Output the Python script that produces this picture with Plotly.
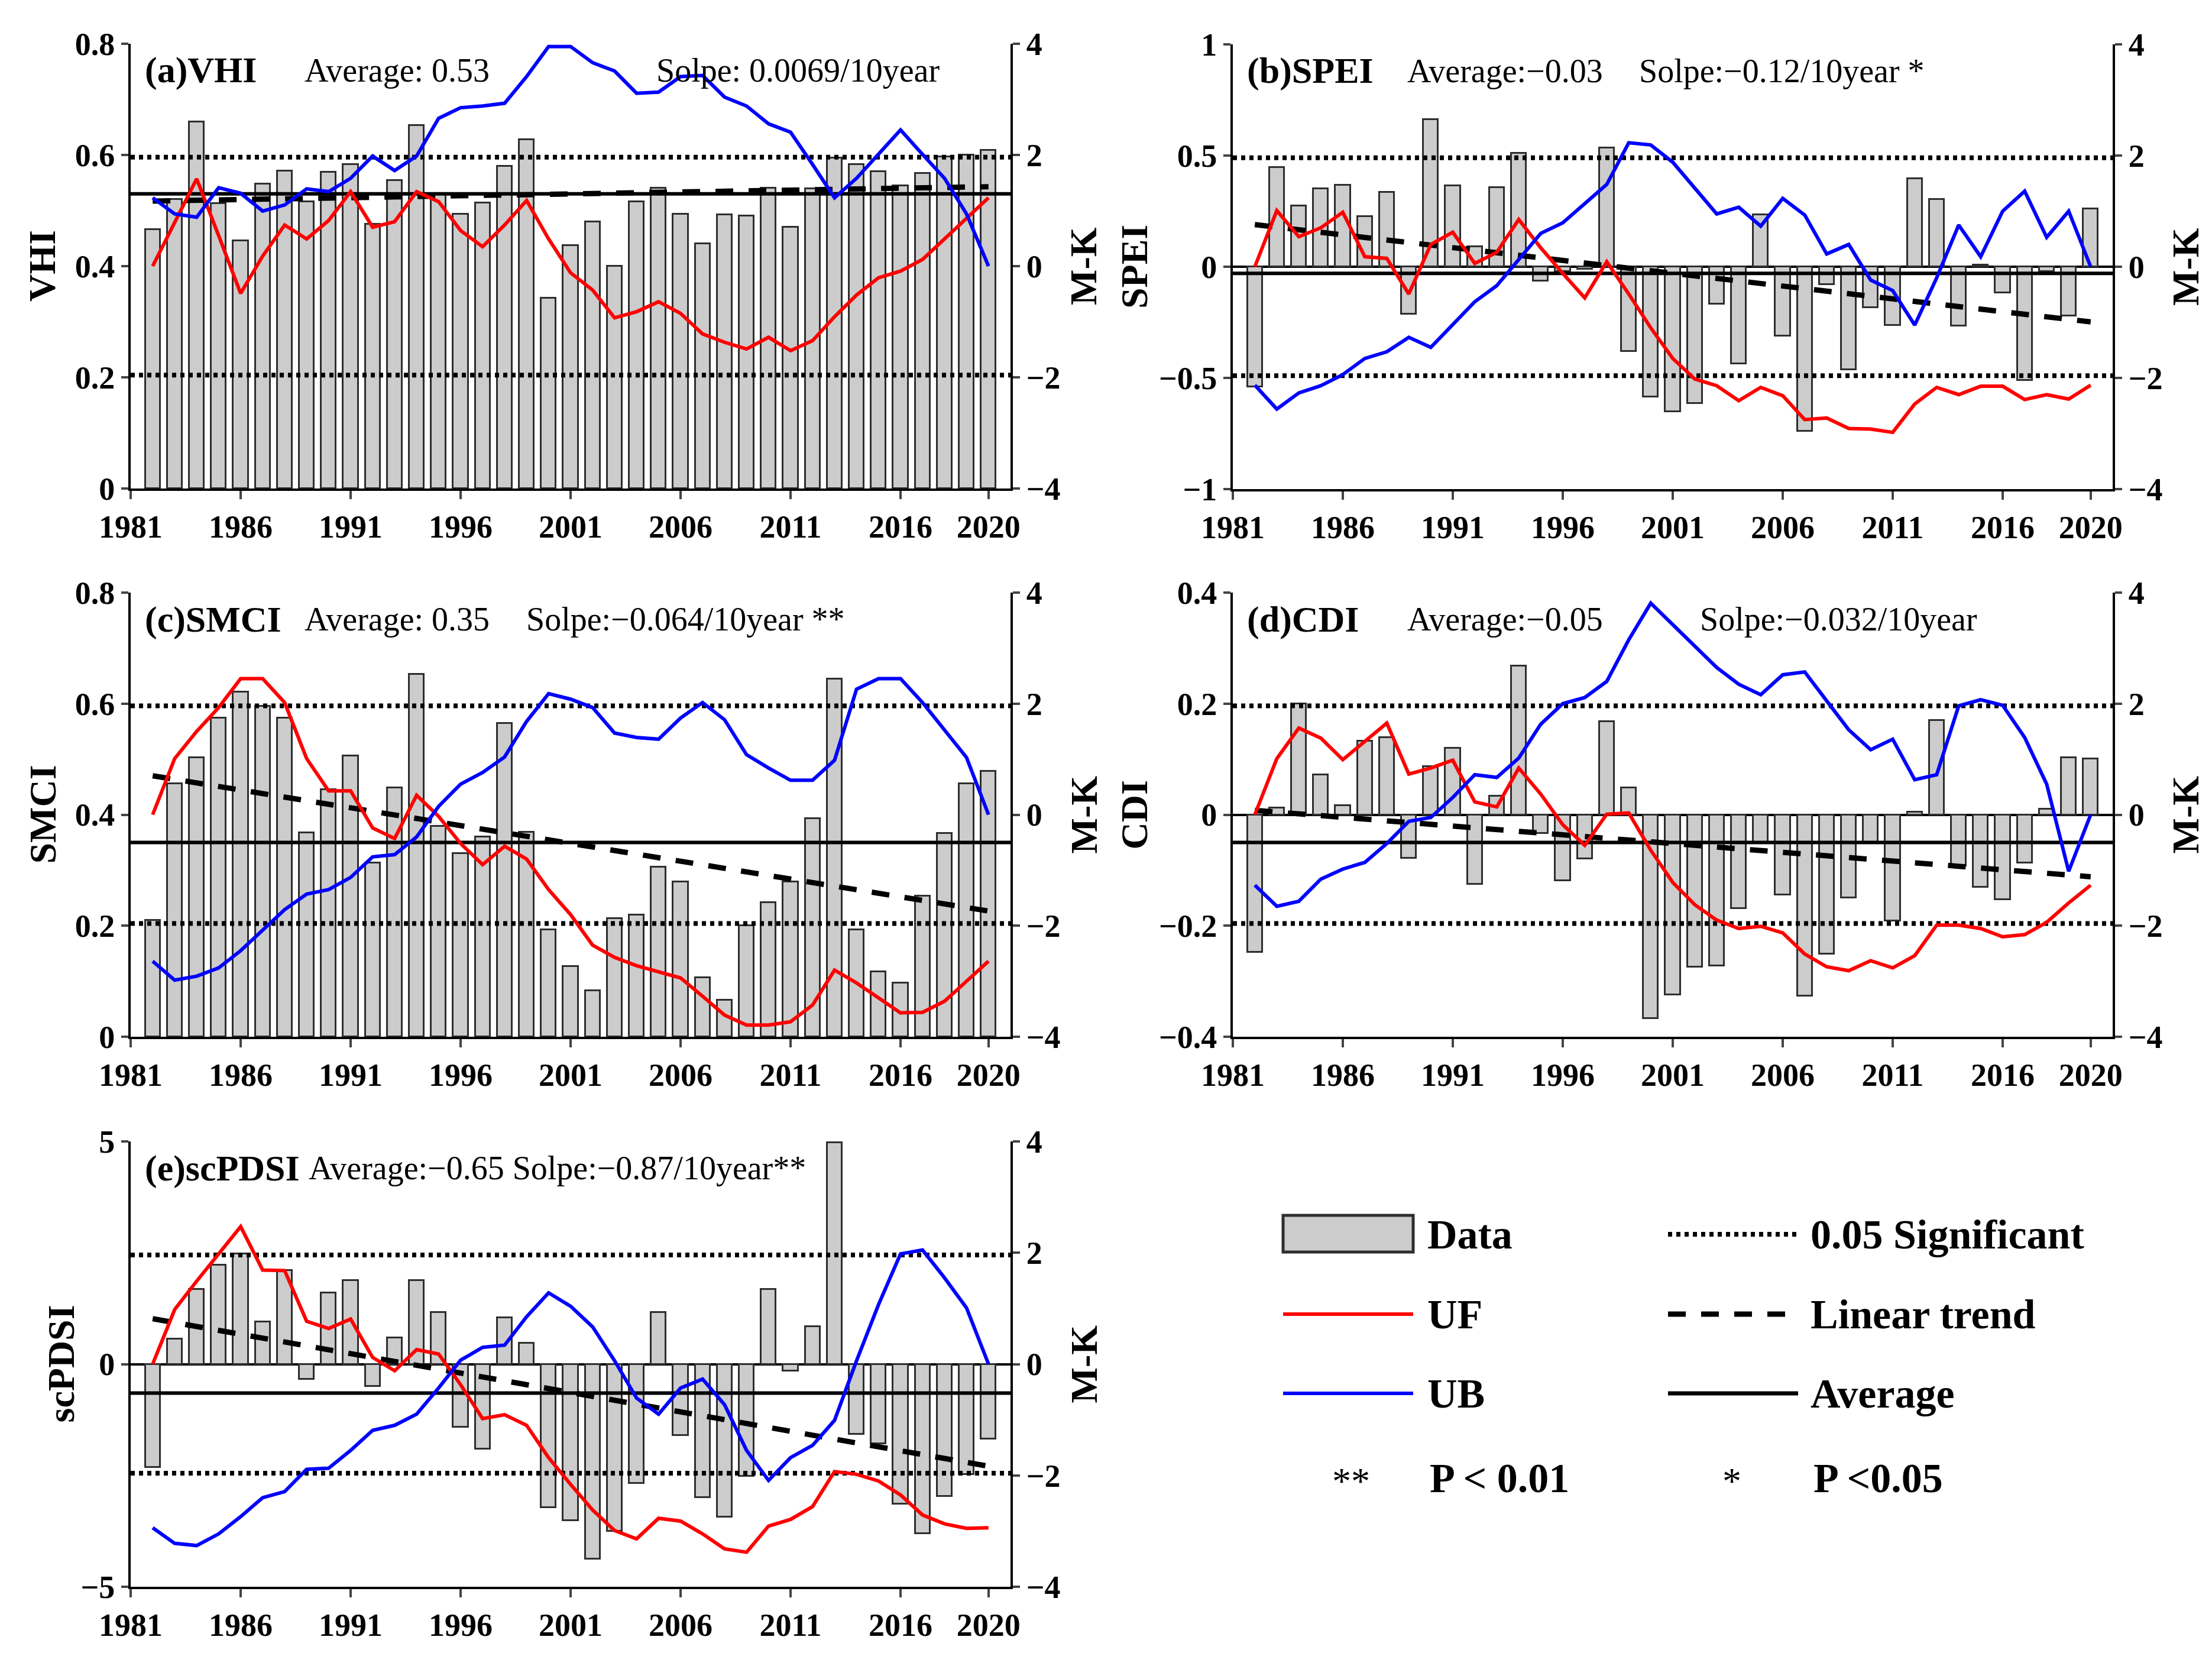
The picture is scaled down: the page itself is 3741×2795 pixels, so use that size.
import numpy as np
import plotly.graph_objects as go

W, H = 3741, 2795
FONT = "Liberation Serif"

years = list(range(1982, 2021))
tick_years = [1981, 1986, 1991, 1996, 2001, 2006, 2011, 2016, 2020]

# (a) VHI
vhi = [0.466, 0.52, 0.66, 0.513, 0.446, 0.548, 0.571, 0.516, 0.569, 0.583,
       0.476, 0.554, 0.653, 0.53, 0.494, 0.514, 0.58, 0.628, 0.343, 0.437,
       0.48, 0.40, 0.516, 0.54, 0.494, 0.44, 0.493, 0.49, 0.54, 0.47,
       0.539, 0.595, 0.583, 0.57, 0.545, 0.567, 0.597, 0.60, 0.608]
vhi_uf = [0, 0.8, 1.57, 0.55, -0.49, 0.18, 0.74, 0.49, 0.82, 1.34,
          0.70, 0.80, 1.34, 1.16, 0.64, 0.35, 0.74, 1.18, 0.49, -0.12,
          -0.43, -0.93, -0.82, -0.64, -0.85, -1.22, -1.37, -1.49, -1.28, -1.52,
          -1.34, -0.91, -0.52, -0.21, -0.09, 0.12, 0.49, 0.85, 1.23]
vhi_ub = [1.23, 0.94, 0.88, 1.41, 1.31, 0.99, 1.10, 1.39, 1.34, 1.58,
          1.98, 1.72, 1.98, 2.66, 2.85, 2.88, 2.93, 3.41, 3.95, 3.95,
          3.66, 3.51, 3.11, 3.13, 3.41, 3.43, 3.04, 2.88, 2.56, 2.41,
          1.83, 1.23, 1.58, 2.01, 2.45, 2.01, 1.58, 0.94, 0]

# (b) SPEI
spei = [-0.54, 0.447, 0.273, 0.351, 0.366, 0.226, 0.334, -0.214, 0.661, 0.365,
        0.09, 0.356, 0.51, -0.064, -0.02, -0.01, 0.534, -0.38, -0.585, -0.652,
        -0.615, -0.168, -0.435, 0.234, -0.311, -0.74, -0.079, -0.464, -0.183, -0.264,
        0.397, 0.302, -0.267, 0.008, -0.118, -0.511, -0.02, -0.221, 0.261]
spei_uf = [0, 1.01, 0.54, 0.70, 0.98, 0.18, 0.15, -0.49, 0.40, 0.62,
           0.06, 0.26, 0.85, 0.34, -0.12, -0.56, 0.09, -0.49, -1.10, -1.65,
           -2.02, -2.14, -2.41, -2.17, -2.32, -2.75, -2.72, -2.91, -2.92, -2.98,
           -2.47, -2.17, -2.30, -2.15, -2.15, -2.39, -2.30, -2.38, -2.13]
spei_ub = [-2.13, -2.56, -2.27, -2.14, -1.94, -1.65, -1.53, -1.27, -1.45, -1.03,
           -0.63, -0.34, 0.13, 0.60, 0.79, 1.13, 1.48, 2.23, 2.19, 1.88,
           1.42, 0.95, 1.07, 0.73, 1.23, 0.93, 0.23, 0.40, -0.24, -0.43,
           -1.05, -0.20, 0.75, 0.18, 1.00, 1.36, 0.53, 1.00, 0]

# (c) SMCI
smci = [0.21, 0.456, 0.503, 0.574, 0.621, 0.595, 0.574, 0.367, 0.445, 0.506,
        0.313, 0.449, 0.653, 0.379, 0.33, 0.36, 0.565, 0.369, 0.193, 0.127,
        0.083, 0.213, 0.219, 0.306, 0.279, 0.107, 0.066, 0.20, 0.242, 0.279,
        0.393, 0.644, 0.193, 0.117, 0.097, 0.254, 0.366, 0.456, 0.478]
smci_uf = [0, 1.01, 1.50, 1.93, 2.45, 2.45, 2.02, 1.01, 0.43, 0.43,
           -0.24, -0.43, 0.35, -0.03, -0.52, -0.90, -0.57, -0.80, -1.35, -1.80,
           -2.35, -2.57, -2.72, -2.83, -2.94, -3.27, -3.61, -3.79, -3.79, -3.73,
           -3.43, -2.80, -3.03, -3.30, -3.57, -3.56, -3.36, -3.00, -2.64]
smci_ub = [-2.64, -2.98, -2.91, -2.76, -2.45, -2.08, -1.71, -1.43, -1.35, -1.13,
           -0.76, -0.72, -0.40, 0.15, 0.55, 0.76, 1.04, 1.68, 2.18, 2.08,
           1.93, 1.47, 1.39, 1.36, 1.74, 2.02, 1.71, 1.08, 0.84, 0.62,
           0.62, 0.98, 2.26, 2.45, 2.45, 2.02, 1.53, 1.03, 0]

# (d) CDI
cdi = [-0.248, 0.012, 0.20, 0.072, 0.017, 0.133, 0.139, -0.078, 0.087, 0.12,
       -0.125, 0.034, 0.268, -0.034, -0.119, -0.079, 0.168, 0.049, -0.367, -0.324,
       -0.274, -0.272, -0.169, -0.052, -0.144, -0.327, -0.251, -0.15, -0.05, -0.191,
       0.005, 0.17, -0.092, -0.131, -0.153, -0.087, 0.01, 0.103, 0.101]
cdi_uf = [0, 1.01, 1.56, 1.38, 0.99, 1.31, 1.65, 0.73, 0.84, 0.98,
          0.23, 0.14, 0.84, 0.37, -0.18, -0.55, 0.01, 0.03, -0.64, -1.22,
          -1.62, -1.90, -2.05, -2.01, -2.13, -2.51, -2.74, -2.81, -2.63, -2.76,
          -2.54, -1.99, -1.99, -2.05, -2.20, -2.16, -1.94, -1.59, -1.27]
cdi_ub = [-1.27, -1.65, -1.56, -1.16, -0.98, -0.86, -0.52, -0.12, -0.05, 0.31,
          0.72, 0.67, 1.02, 1.63, 2.00, 2.11, 2.40, 3.15, 3.81, 3.43,
          3.04, 2.65, 2.35, 2.16, 2.52, 2.57, 2.05, 1.53, 1.17, 1.36,
          0.63, 0.72, 1.96, 2.07, 1.97, 1.39, 0.55, -1.02, 0]

# (e) scPDSI
pdsi = [-2.32, 0.57, 1.68, 2.23, 2.48, 0.95, 2.11, -0.34, 1.60, 1.88,
        -0.50, 0.59, 1.88, 1.16, -1.41, -1.91, 1.04, 0.47, -3.22, -3.51,
        -4.38, -3.75, -2.67, 1.16, -1.60, -2.99, -3.43, -2.52, 1.68, -0.15,
        0.84, 4.98, -1.58, -1.79, -3.14, -3.81, -2.97, -2.48, -1.68]
pdsi_uf = [0, 0.98, 1.49, 1.99, 2.47, 1.69, 1.68, 0.77, 0.64, 0.81,
           0.12, -0.12, 0.26, 0.18, -0.37, -0.98, -0.91, -1.10, -1.68, -2.16,
           -2.62, -2.99, -3.14, -2.77, -2.82, -3.05, -3.32, -3.38, -2.91, -2.79,
           -2.56, -1.93, -1.98, -2.10, -2.35, -2.71, -2.87, -2.95, -2.94]
pdsi_ub = [-2.94, -3.22, -3.26, -3.05, -2.74, -2.40, -2.29, -1.89, -1.87, -1.55,
           -1.19, -1.10, -0.90, -0.43, 0.07, 0.30, 0.34, 0.85, 1.28, 1.04,
           0.67, 0.06, -0.61, -0.90, -0.43, -0.27, -0.73, -1.55, -2.09, -1.68,
           -1.46, -1.01, 0.06, 1.07, 1.98, 2.05, 1.55, 1.01, 0]

averages = [0.53, -0.03, 0.35, -0.05, -0.65]
sig_level = 1.96

# pixel boxes of the plot areas (left, right, top, bottom)
panels = [
    dict(lab="(a)VHI", name="VHI", d=vhi, uf=vhi_uf, ub=vhi_ub, rng=[0, 0.8], dt=0.2,
         box=(213, 1701, 66, 818), avg_txt="Average: 0.53", avg_x=505,
         slp_txt="Solpe: 0.0069/10year", slp_x=1100, title_x=64, mk_x=1825),
    dict(lab="(b)SPEI", name="SPEI", d=spei, uf=spei_uf, ub=spei_ub, rng=[-1, 1], dt=0.5,
         box=(2077, 3565, 67, 819), avg_txt="Average:\u22120.03", avg_x=2370,
         slp_txt="Solpe:\u22120.12/10year *", slp_x=2762, title_x=1910, mk_x=3688),
    dict(lab="(c)SMCI", name="SMCI", d=smci, uf=smci_uf, ub=smci_ub, rng=[0, 0.8], dt=0.2,
         box=(213, 1701, 994, 1745), avg_txt="Average: 0.35", avg_x=505,
         slp_txt="Solpe:\u22120.064/10year **", slp_x=880, title_x=64, mk_x=1825),
    dict(lab="(d)CDI", name="CDI", d=cdi, uf=cdi_uf, ub=cdi_ub, rng=[-0.4, 0.4], dt=0.2,
         box=(2077, 3565, 994, 1745), avg_txt="Average:\u22120.05", avg_x=2370,
         slp_txt="Solpe:\u22120.032/10year", slp_x=2865, title_x=1910, mk_x=3688),
    dict(lab="(e)scPDSI", name="scPDSI", d=pdsi, uf=pdsi_uf, ub=pdsi_ub, rng=[-5, 5], dt=5,
         box=(213, 1701, 1922, 2675), avg_txt="Average:\u22120.65 Solpe:\u22120.87/10year**",
         avg_x=512, slp_txt="", slp_x=0, title_x=95, mk_x=1825),
]


def px(x):
    return x / W


def py(y):
    return 1 - y / H


def note(x, y, text, size, anchor="left", angle=0):
    return dict(x=x, y=y, xref="paper", yref="paper", text=text, showarrow=False,
                xanchor=anchor, yanchor="middle", textangle=angle,
                font=dict(family=FONT, size=size, color="black"))


fig = go.Figure()
tickfont = dict(family=FONT, size=54, color="black", weight="bold")
annotations = []
shapes = []

for i, p in enumerate(panels, start=1):
    xa = "x" if i == 1 else f"x{i}"
    ya1 = "y" if i == 1 else f"y{2 * i - 1}"
    ya2 = f"y{2 * i}"
    x0, x1, t, b = p["box"]
    avg = averages[i - 1]

    fig.add_trace(go.Bar(x=years, y=p["d"], width=0.68, xaxis=xa, yaxis=ya1,
                         marker=dict(color="#cccccc", line=dict(color="#2e2e2e", width=3))))
    fig.add_trace(go.Scatter(x=[1981, 2021], y=[avg, avg], mode="lines", xaxis=xa, yaxis=ya1,
                             line=dict(color="black", width=6)))
    k, c = np.polyfit(years, p["d"], 1)
    fig.add_trace(go.Scatter(x=[1982, 2020], y=[k * 1982 + c, k * 2020 + c], mode="lines",
                             xaxis=xa, yaxis=ya1,
                             line=dict(color="black", width=9, dash="30px,26px")))
    for s in (sig_level, -sig_level):
        fig.add_trace(go.Scatter(x=[1981, 2021], y=[s, s], mode="lines", xaxis=xa, yaxis=ya2,
                                 line=dict(color="black", width=8, dash="7px,7px")))
    fig.add_trace(go.Scatter(x=years, y=p["uf"], mode="lines", xaxis=xa, yaxis=ya2,
                             line=dict(color="#ff0000", width=6)))
    fig.add_trace(go.Scatter(x=years, y=p["ub"], mode="lines", xaxis=xa, yaxis=ya2,
                             line=dict(color="#0000ff", width=6)))

    xkey = "xaxis" if i == 1 else f"xaxis{i}"
    y1key = "yaxis" if i == 1 else f"yaxis{2 * i - 1}"
    y2key = f"yaxis{2 * i}"
    fig.layout[xkey] = dict(domain=[px(x0), px(x1)], anchor=ya1, range=[1981, 2021],
                            tickvals=tick_years, ticks="outside", ticklen=14, tickwidth=4,
                            showline=True, linecolor="black", linewidth=4, showgrid=False,
                            zeroline=False, tickfont=tickfont, automargin=False)
    fig.layout[y1key] = dict(domain=[py(b), py(t)], anchor=xa, range=p["rng"], dtick=p["dt"],
                             ticks="outside", ticklen=12, tickwidth=4, showline=True,
                             linecolor="black", linewidth=4, showgrid=False,
                             zeroline=p["rng"][0] < 0, zerolinecolor="black", zerolinewidth=4,
                             tickfont=tickfont, automargin=False)
    fig.layout[y2key] = dict(overlaying=ya1, anchor=xa, side="right", range=[-4, 4], dtick=2,
                             ticks="outside", ticklen=12, tickwidth=4, showline=True,
                             linecolor="black", linewidth=4, showgrid=False, zeroline=False,
                             tickfont=tickfont, automargin=False)

    ymid = py((t + b) / 2)
    ylab = py(t + 45)
    annotations.append(note(px(x0 + 22), ylab, f"<b>{p['lab']}</b>", 62))
    annotations.append(note(px(p["avg_x"]), ylab, p["avg_txt"], 56))
    if p["slp_txt"]:
        annotations.append(note(px(p["slp_x"]), ylab, p["slp_txt"], 56))
    annotations.append(note(px(p["title_x"]), ymid, f"<b>{p['name']}</b>", 64, "center", -90))
    annotations.append(note(px(p["mk_x"]), ymid, "<b>M-K</b>", 64, "center", -90))

# legend, drawn by hand in the empty lower-right area
rows = [2079, 2214, 2348, 2491]
shapes.append(dict(type="rect", xref="paper", yref="paper", x0=px(2162), x1=px(2382),
                   y0=py(2109), y1=py(2047), fillcolor="#cccccc",
                   line=dict(color="#2e2e2e", width=5)))
for yy, col in ((rows[1], "#ff0000"), (rows[2], "#0000ff")):
    shapes.append(dict(type="line", xref="paper", yref="paper", x0=px(2162), x1=px(2382),
                       y0=py(yy), y1=py(yy), line=dict(color=col, width=6)))
for yy, dash, wd in ((rows[0], "7px,7px", 8), (rows[1], "30px,26px", 9), (rows[2], "solid", 7)):
    shapes.append(dict(type="line", xref="paper", yref="paper", x0=px(2813), x1=px(3033),
                       y0=py(yy), y1=py(yy), line=dict(color="black", width=wd, dash=dash)))
for txt, xx, yy in (("Data", 2404, rows[0]), ("UF", 2404, rows[1]), ("UB", 2404, rows[2]),
                    ("P < 0.01", 2408, rows[3]), ("0.05 Significant", 3052, rows[0]),
                    ("Linear trend", 3052, rows[1]), ("Average", 3052, rows[2]),
                    ("P <0.05", 3057, rows[3])):
    annotations.append(note(px(xx), py(yy), f"<b>{txt}</b>", 70))
for txt, xx in (("**", 2277), ("*", 2921)):
    annotations.append(note(px(xx), py(rows[3] + 5), txt, 64, "center"))

fig.update_layout(width=W, height=H, margin=dict(l=0, r=0, t=0, b=0),
                  paper_bgcolor="white", plot_bgcolor="white", showlegend=False,
                  bargap=0, annotations=annotations, shapes=shapes,
                  font=dict(family=FONT, color="black"))

fig.write_html("out.html")
